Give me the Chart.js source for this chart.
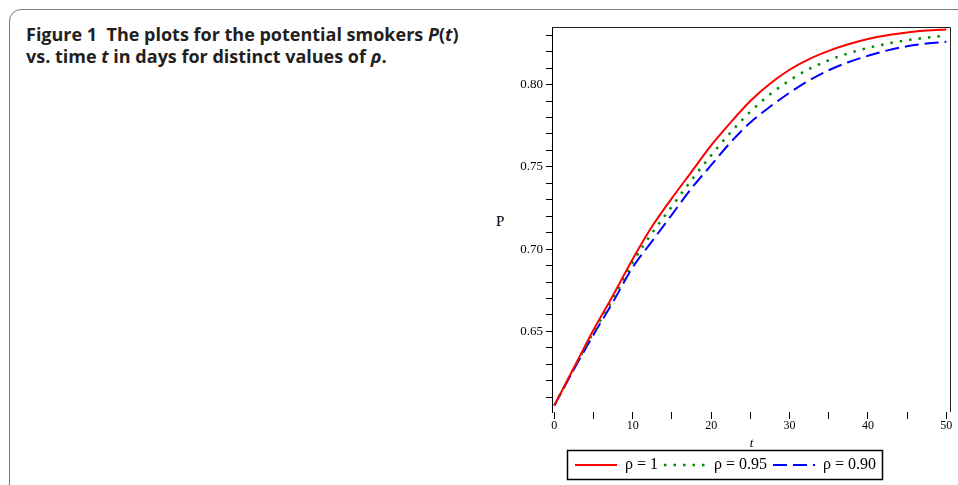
<!DOCTYPE html>
<html>
<head>
<meta charset="utf-8">
<script src="https://cdn.jsdelivr.net/npm/chart.js@4.4.1/dist/chart.umd.min.js"></script>
<style>
  html, body { margin: 0; padding: 0; background: #fff; overflow: hidden; }
  body { width: 958px; height: 485px; position: relative; }
  .card { position: absolute; left: 9px; top: 9px; width: 1100px; height: 600px;
          border: 1.5px solid #7a7a7a; border-top-left-radius: 12px; }
  .caption { position: absolute; left: 26px; top: 23px; font-family: 'Open Sans', sans-serif; font-weight: bold;
             font-size: 18px; line-height: 22px; color: #231f20; white-space: nowrap; }
  .ylab { position: absolute; left: 496px; top: 213px; font-family: 'Liberation Serif', serif; font-size: 15px; color: #000; }
  #wrap { position: absolute; left: 500px; top: 15px; width: 458px; height: 470px; }
</style>
</head>
<body>
<div class="card"></div>
<div class="caption">Figure 1&nbsp; The plots for the potential smokers <i>P</i>(<i>t</i>)<br>vs. time <i>t</i> in days for distinct values of <i>ρ</i>.</div>
<div class="ylab">P</div>
<div id="wrap"><canvas id="myChart"></canvas></div>
<script>
// time in days
const tValues = [0, 2.5, 5, 7.5, 10, 12.5, 15, 17.5, 20, 22.5, 25, 27.5, 30, 32.5, 35, 37.5, 40, 42.5, 45, 47.5, 50];
// P(t) for each rho
const pRho100 = [0.605, 0.628, 0.651, 0.672, 0.694, 0.714, 0.731, 0.747, 0.763, 0.777, 0.790, 0.8005, 0.809, 0.8155, 0.8205, 0.8245, 0.8277, 0.830, 0.8316, 0.8328, 0.8335];
const pRho095 = [0.605, 0.6275, 0.6495, 0.670, 0.692, 0.710, 0.726, 0.742, 0.757, 0.771, 0.7835, 0.794, 0.8025, 0.8095, 0.8148, 0.819, 0.8223, 0.8249, 0.827, 0.8285, 0.8297];
const pRho090 = [0.605, 0.627, 0.648, 0.668, 0.689, 0.705, 0.721, 0.737, 0.751, 0.765, 0.777, 0.7865, 0.795, 0.8025, 0.8087, 0.8136, 0.8175, 0.8208, 0.8233, 0.825, 0.826];

const seriesNames = ['ρ = 1', 'ρ = 0.95', 'ρ = 0.90'];

// ticks
const xTicks = [0, 5, 10, 15, 20, 25, 30, 35, 40, 45, 50];
const xLabels = [0, 10, 20, 30, 40, 50];
const yTicks = [0.61, 0.62, 0.63, 0.64, 0.65, 0.66, 0.67, 0.68, 0.69, 0.70, 0.71, 0.72, 0.73, 0.74, 0.75, 0.76, 0.77, 0.78, 0.79, 0.80, 0.81, 0.82, 0.83];
const yLabels = [0.65, 0.70, 0.75, 0.80];

const toPoints = arr => arr.map((p, i) => ({ x: tValues[i], y: p }));
const serif = "'Liberation Serif', 'DejaVu Serif', serif";

// top/right frame and the box round the legend
const framePlugin = {
  id: 'frame',
  afterDraw(chart) {
    const { ctx, chartArea: a } = chart;
    ctx.save();
    ctx.strokeStyle = '#222';
    ctx.lineWidth = 1;
    ctx.beginPath();
    ctx.moveTo(a.left, a.top + 0.5);
    ctx.lineTo(a.right - 0.5, a.top + 0.5);
    ctx.lineTo(a.right - 0.5, a.bottom);
    ctx.stroke();

    const boxes = chart.legend.legendHitBoxes;
    if (boxes && boxes.length) {
      const l = Math.min(...boxes.map(b => b.left)) - 8;
      const r = Math.max(...boxes.map(b => b.left + b.width)) + 6;
      const t = Math.min(...boxes.map(b => b.top)) - 7;
      const btm = Math.max(...boxes.map(b => b.top + b.height)) + 6;
      ctx.strokeStyle = '#000';
      ctx.lineWidth = 1.5;
      ctx.strokeRect(Math.round(l) + 0.5, Math.round(t) + 0.5, Math.round(r - l), Math.round(btm - t));
    }
    ctx.restore();
  }
};

const ctx = document.getElementById('myChart');
const myChart = new Chart(ctx, {
  type: 'line',
  data: {
    datasets: [
      { label: seriesNames[0], data: toPoints(pRho100), borderColor: '#ff0000', backgroundColor: '#ff0000', borderWidth: 2 },
      { label: seriesNames[1], data: toPoints(pRho095), borderColor: '#008a00', backgroundColor: '#008a00', borderWidth: 2.5, borderDash: [2.5, 7] },
      { label: seriesNames[2], data: toPoints(pRho090), borderColor: '#0000ff', backgroundColor: '#0000ff', borderWidth: 2, borderDash: [14, 6] }
    ]
  },
  options: {
    responsive: true,
    maintainAspectRatio: false,
    animation: false,
    layout: { padding: { top: 12, right: 7, left: 0, bottom: 2 } },
    elements: {
      point: { radius: 0 },
      line: { cubicInterpolationMode: 'monotone', fill: false }
    },
    scales: {
      x: {
        type: 'linear',
        min: -0.3,
        max: 50.6,
        afterBuildTicks: scale => { scale.ticks = xTicks.map(v => ({ value: v })); },
        afterFit: scale => { scale.height = 39; },
        ticks: {
          autoSkip: false,
          maxRotation: 0,
          padding: 0,
          color: '#000',
          font: { family: serif, size: 12 },
          callback: v => xLabels.includes(v) ? String(v) : ''
        },
        grid: { drawOnChartArea: false, tickLength: 7, tickColor: '#000' },
        border: { display: false },
        title: { display: true, text: 't', color: '#000', padding: 0, font: { family: serif, size: 13, style: 'italic' } }
      },
      y: {
        min: 0.601,
        max: 0.835,
        afterBuildTicks: scale => { scale.ticks = yTicks.map(v => ({ value: v })); },
        afterFit: scale => { scale.width = 52; },
        ticks: {
          autoSkip: false,
          padding: 3,
          color: '#000',
          font: { family: serif, size: 13 },
          callback: v => yLabels.some(l => Math.abs(l - v) < 1e-6) ? v.toFixed(2) : ''
        },
        grid: { drawOnChartArea: false, tickLength: 6, tickColor: '#000' },
        border: { display: true, color: '#000', width: 1 }
      }
    },
    plugins: {
      legend: {
        position: 'bottom',
        labels: {
          usePointStyle: true,
          pointStyle: 'line',
          pointStyleWidth: 42,
          boxHeight: 16,
          padding: 6,
          color: '#000',
          font: { family: serif, size: 16 },
          // keep the dash pattern of each line in its legend sample
          generateLabels: chart => {
            const items = Chart.defaults.plugins.legend.labels.generateLabels(chart);
            items.forEach(it => {
              const ds = chart.data.datasets[it.datasetIndex];
              it.lineDash = ds.borderDash || [];
              it.lineWidth = ds.borderWidth;
              it.strokeStyle = ds.borderColor;
              it.pointStyle = 'line';
            });
            return items;
          }
        }
      },
      tooltip: { enabled: false }
    }
  },
  plugins: [framePlugin]
});
</script>
</body>
</html>
